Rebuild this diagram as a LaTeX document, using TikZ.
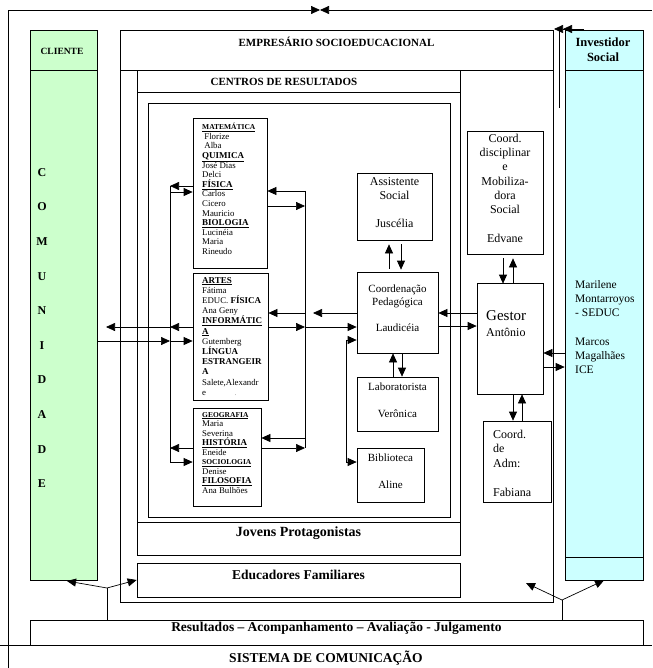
\documentclass[tikz,border=0pt]{standalone}
\usepackage{fontspec}
\setmainfont{Liberation Serif}
\usetikzlibrary{arrows.meta,fit}
\definecolor{cligreen}{HTML}{CCFFCC}
\definecolor{invcyan}{HTML}{CCFFFF}
\newcommand\subjhd[1]{\underline{\textbf{#1}}}
\begin{document}
\begin{tikzpicture}[x=1pt,y=-1pt,
  ln/.style={line width=0.7pt},
  box/.style={draw,line width=0.7pt,inner sep=0pt},
  arr/.style={line width=0.7pt,-{Triangle[length=9pt,width=8pt]}},
  arrtwo/.style={line width=0.7pt,{Triangle[length=9pt,width=8pt]}-{Triangle[length=9pt,width=8pt]}},
  dblarr/.style={line width=0.7pt,-{Triangle[length=9pt,width=8pt]Triangle[length=9pt,width=8pt]}},
  txt/.style={inner sep=0pt,align=center},
  subj/.style={inner sep=0pt,align=left,anchor=north west},
]
\useasboundingbox (0,0) rectangle (652,668);
% ---------- coloured side columns
\node[box,fill=cligreen,fit={(30,30) (97,580)}] (cli) {};
\node[box,fill=invcyan,fit={(565,30) (643,580)}] (inv) {};
\draw[ln] (30,70) -- (97,70);
\draw[ln] (565,70) -- (643,70);
\draw[ln] (565,557) -- (643,557);
\node[txt,font=\fontsize{9.5}{11}\selectfont\bfseries] (clit) at (62,51) {CLIENTE};
\node[txt,font=\fontsize{12}{34.6}\selectfont\bfseries] (comu) at (42,328) {C\\O\\M\\U\\N\\I\\D\\A\\D\\E};
\node[txt,font=\fontsize{12.5}{15}\selectfont\bfseries] (invt) at (603,50) {Investidor\\Social};
\node[subj,font=\fontsize{11.5}{14.3}\selectfont] (invn) at (575,280) {Marilene\\Montarroyos\\- SEDUC\\[14.3pt]Marcos\\Magalhães\\ICE};
% ---------- outer frame
\coordinate (oTL) at (8,10);
\coordinate (oBL) at (8,668);
\coordinate (oTR) at (652,10);
\coordinate (tmL) at (320,10);
\coordinate (tmR) at (320,10);
\draw[ln] (oBL) -- (oTL);
\draw[arr] (oTL) -- (tmL);
\draw[arr] (oTR) -- (tmR);
% ---------- Empresario
\node[box,fit={(120,30) (553,602)}] (emp) {};
\draw[ln] (120,70) -- (553,70);
\node[txt,font=\fontsize{11}{13}\selectfont\bfseries] (empt) at (336.5,42) {EMPRESÁRIO SOCIOEDUCACIONAL};
\coordinate (erA) at (559,30);
\coordinate (erB) at (559,108);
\draw[ln] (erA) -- (erB);
\coordinate (erC) at (584,29);
\coordinate (erD) at (554,29);
\draw[dblarr] (erC) -- (erD);
% ---------- Centros
\node[box,fit={(137,70) (460,522)}] (cen) {};
\draw[ln] (137,92) -- (460,92);
\node[txt,font=\fontsize{11}{13}\selectfont\bfseries] (cent) at (284,82) {CENTROS DE RESULTADOS};
\node[box,fit={(148,103) (450,517)}] (inner) {};
\node[box,fit={(137,522) (460,555)},font=\fontsize{14}{15}\selectfont\bfseries] (jov) {Jovens Protagonistas};
\node[box,fit={(137,563) (460,597)},font=\fontsize{13.5}{15}\selectfont\bfseries] (edu) {Educadores Familiares};
% ---------- bottom
\node[box,fit={(30,620) (643,645)},font=\fontsize{13.5}{15}\selectfont\bfseries] (res) {Resultados – Acompanhamento – Avaliação - Julgamento};
\coordinate (sL) at (0,645);
\coordinate (sR) at (652,645);
\draw[ln] (sL) -- (sR);
\node[txt,font=\fontsize{13.5}{15}\selectfont\bfseries] (sis) at (326,658) {SISTEMA DE COMUNICAÇÃO};
\coordinate (jl) at (107,588);
\coordinate (jlt) at (67,581);
\draw[ln] (res.north -| jl) -- (jl);
\draw[arr] (jl) -- (jlt);
\draw[arr] (jl) -- (edu.west);
\coordinate (jr) at (562,600);
\coordinate (jrt) at (526,583);
\draw[ln] (res.north -| jr) -- (jr);
\draw[arr] (jr) -- (jrt);
\draw[arr] (jr) -- (inv.south);
% ---------- subject boxes
\node[box,fit={(193,118) (267,268)}] (b1) {};
\node[box,fit={(193,273) (268,400)}] (b2) {};
\node[box,fit={(193,408) (261,506)}] (b3) {};
\node[subj,font=\fontsize{8.8}{9.6}\selectfont] (b1t) at (202,123) {%
{\fontsize{7.5}{9.6}\selectfont\subjhd{MATEMÁTICA}}\\
\ Florize\\
\ Alba\\
{\fontsize{9}{9.6}\selectfont\subjhd{QUIMICA}}\\
José Dias\\
Delci\\
{\fontsize{9}{9.6}\selectfont\subjhd{FÍSICA}}\\
Carlos\\
Cicero\\
Mauricio\\
{\fontsize{9}{9.6}\selectfont\subjhd{BIOLOGIA}}\\
Lucinéia\\
Maria\\
Rineudo};
\node[subj,font=\fontsize{8.8}{10.2}\selectfont] (b2t) at (202,277) {%
{\fontsize{9}{10.2}\selectfont\subjhd{ARTES}}\\
Fátima\\
EDUC. {\fontsize{9}{10.2}\selectfont\textbf{FÍSICA}}\\
Ana Geny\\
{\fontsize{9}{10.2}\selectfont\subjhd{INFORMÁTIC}}\\
{\fontsize{9}{10.2}\selectfont\subjhd{A}}\\
Gutemberg\\
{\fontsize{9}{10.2}\selectfont\textbf{LÍNGUA}}\\
{\fontsize{9}{10.2}\selectfont\textbf{ESTRANGEIR}}\\
{\fontsize{9}{10.2}\selectfont\textbf{A}}\\
Salete,Alexandr\\
e\hspace{29pt}{\fontsize{5}{6}\selectfont .}};
\node[subj,font=\fontsize{8.8}{9.5}\selectfont] (b3t) at (202,412) {%
{\fontsize{7.5}{9.5}\selectfont\subjhd{GEOGRAFIA}}\\
Maria\\
Severina\\
{\fontsize{9}{9.5}\selectfont\subjhd{HISTÓRIA}}\\
Eneide\\
{\fontsize{7.5}{9.5}\selectfont\subjhd{SOCIOLOGIA}}\\
Denise\\
{\fontsize{9}{9.5}\selectfont\subjhd{FILOSOFIA}}\\
Ana Bulhões};
% ---------- middle column
\node[box,fit={(357,173) (432,240)},align=center,font=\fontsize{12}{14}\selectfont] (as) {Assistente\\Social\\[14pt]Juscélia};
\node[box,fit={(357,272) (438,353)},align=center,font=\fontsize{11}{13}\selectfont] (coord) {Coordenação\\Pedagógica\\[13pt]Laudicéia};
\node[box,fit={(357,377) (438,431)},align=center,font=\fontsize{11}{13.5}\selectfont] (lab) {Laboratorista\\[13.5pt]Verônica};
\node[box,fit={(357,448) (424,502)},align=center,font=\fontsize{11}{13.5}\selectfont] (bib) {Biblioteca\\[13.5pt]Aline};
\node[box,fit={(467,131) (543,254)},align=center,font=\fontsize{12}{14.3}\selectfont] (cd) {Coord.\\disciplinar\\e\\Mobiliza-\\dora\\Social\\[14.3pt]Edvane};
\node[box,fit={(477,283) (543,394)}] (gest) {};
\node[inner sep=0pt,anchor=base west,font=\fontsize{15}{17}\selectfont] (gestt) at (486,320) {Gestor};
\node[inner sep=0pt,anchor=base west,font=\fontsize{12}{14}\selectfont] (gestn) at (486,336) {Antônio};
\node[box,fit={(483,421) (551,502)}] (adm) {};
\node[inner sep=0pt,anchor=west,align=left,font=\fontsize{12}{14.5}\selectfont] (admt) at (493,463) {Coord.\\de\\Adm:\\[14.5pt]Fabiana};
% ---------- left bracket
\coordinate (lb1) at (170,186);
\coordinate (lb2) at (170,192);
\coordinate (lb3) at (170,327);
\coordinate (lb4) at (170,341);
\coordinate (lb5) at (170,448);
\coordinate (lb6) at (170,462);
\coordinate (ctip) at (106,327);
\draw[ln] (lb1) -- (lb6);
\draw[arr] (b1.west |- lb1) -- (lb1);
\draw[arr] (lb2) -- (b1.west |- lb2);
\draw[arr] (b2.west |- lb3) -- (lb3);
\draw[arr] (lb3) -- (ctip);
\draw[arr] (cli.east |- lb4) -- (lb4);
\draw[arr] (lb4) -- (b2.west |- lb4);
\draw[arr] (b3.west |- lb5) -- (lb5);
\draw[arr] (lb6) -- (b3.west |- lb6);
% ---------- right bracket
\coordinate (rb1) at (305,191);
\coordinate (rb2) at (305,206);
\coordinate (rb3) at (305,313);
\coordinate (rb3b) at (313,313);
\coordinate (rb4) at (305,327);
\coordinate (rb5) at (305,438);
\coordinate (rb6) at (305,448);
\draw[ln] (rb1) -- (rb6);
\draw[arr] (rb1) -- (b1.east |- rb1);
\draw[arr] (b1.east |- rb2) -- (rb2);
\draw[arr] (rb3) -- (b2.east |- rb3);
\draw[arr] (b2.east |- rb4) -- (rb4);
\draw[arr] (rb5) -- (b3.east |- rb5);
\draw[arr] (b3.east |- rb6) -- (rb6);
\draw[arr] (coord.west |- rb3) -- (rb3b);
\draw[arr] (rb4) -- (coord.west |- rb4);
% ---------- coord <-> biblioteca bracket
\coordinate (cb1) at (346,340);
\coordinate (cb2) at (346,462);
\draw[arrtwo] (coord.west |- cb1) -- (cb1) -- (cb2) -- (bib.west |- cb2);
% ---------- vertical pairs
\coordinate (x389) at (389,0);
\coordinate (x401) at (401,0);
\coordinate (x393) at (393,0);
\coordinate (x402) at (402,0);
\coordinate (x503) at (503,0);
\coordinate (x513) at (513,0);
\coordinate (x522) at (522,0);
\draw[arr,shorten <=3pt,shorten >=4pt] (coord.north -| x389) -- (as.south -| x389);
\draw[arr,shorten <=4pt,shorten >=2pt] (as.south -| x401) -- (coord.north -| x401);
\draw[arr] (lab.north -| x393) -- (coord.south -| x393);
\draw[arr] (coord.south -| x402) -- (lab.north -| x402);
\draw[arr,shorten <=4pt,shorten >=-1pt] (cd.south -| x503) -- (gest.north -| x503);
\draw[arr,shorten >=4pt] (gest.north -| x513) -- (cd.south -| x513);
\draw[arr] (gest.south -| x513) -- (adm.north -| x513);
\draw[arr] (adm.north -| x522) -- (gest.south -| x522);
% ---------- horizontal pairs
\coordinate (y313) at (0,313);
\coordinate (y326) at (0,326);
\coordinate (y353) at (0,353);
\coordinate (y367) at (0,367);
\draw[arr] (gest.west |- y313) -- (coord.east |- y313);
\draw[arr] (coord.east |- y326) -- (gest.west |- y326);
\draw[arr] (inv.west |- y353) -- (gest.east |- y353);
\draw[arr] (gest.east |- y367) -- (inv.west |- y367);
\end{tikzpicture}
\end{document}
